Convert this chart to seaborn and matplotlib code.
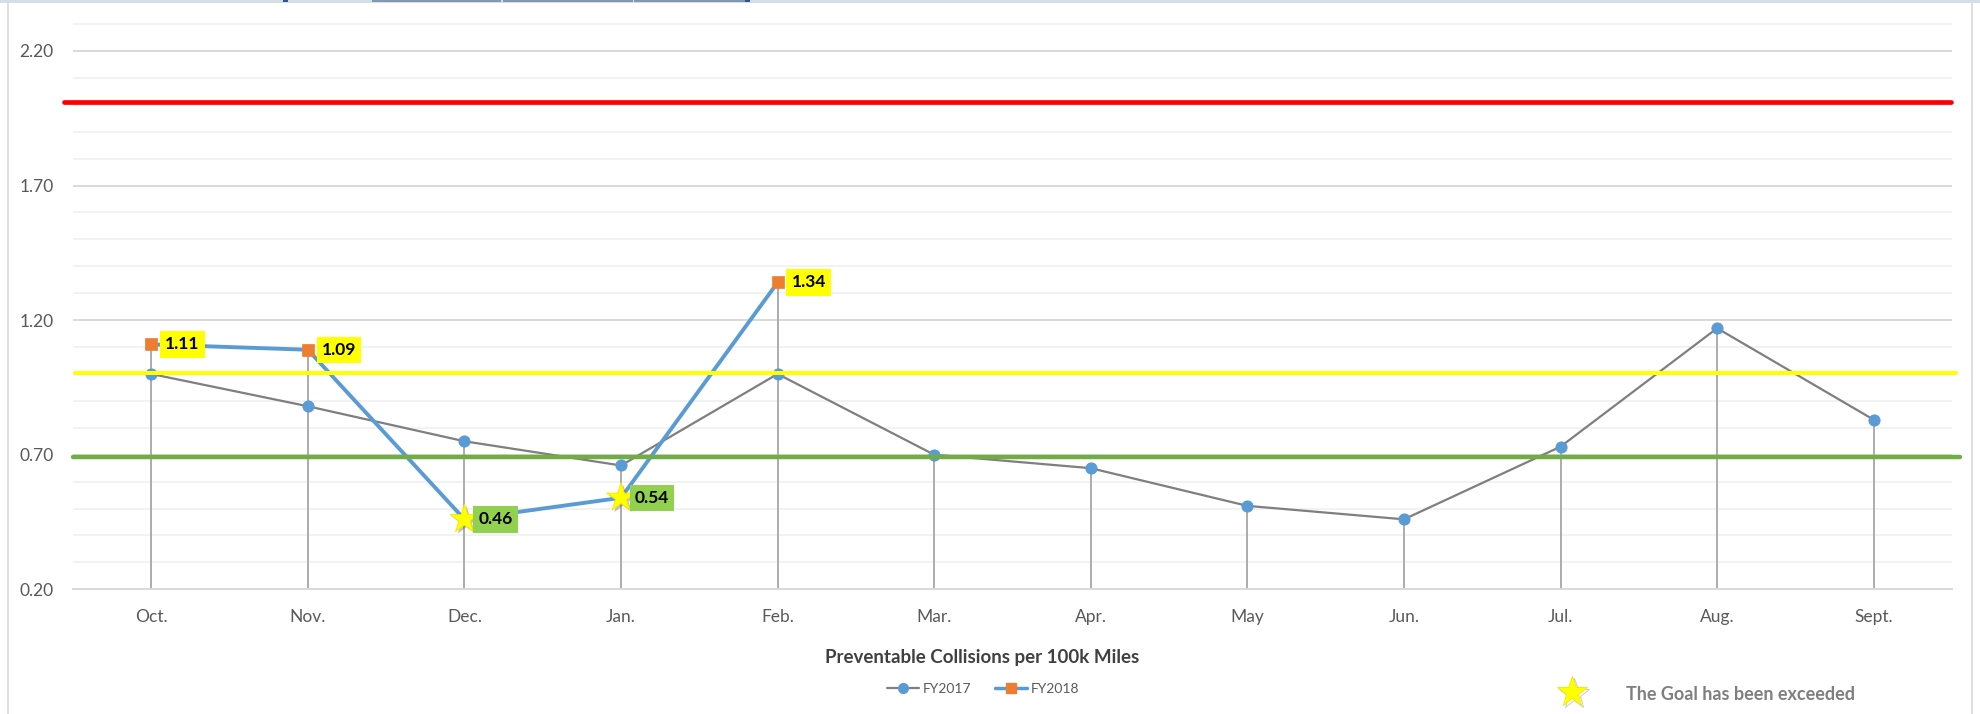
import numpy as np
import pandas as pd
import matplotlib
matplotlib.use("Agg")
import matplotlib.pyplot as plt
import matplotlib.patheffects as pe
from matplotlib.lines import Line2D
from matplotlib.patches import Rectangle
from matplotlib.ticker import FixedLocator, MultipleLocator, FuncFormatter
import seaborn as sns

# ---- data -------------------------------------------------------------
months = ["Oct.", "Nov.", "Dec.", "Jan.", "Feb.", "Mar.", "Apr.", "May",
          "Jun.", "Jul.", "Aug.", "Sept."]
fy2017 = [1.00, 0.88, 0.75, 0.66, 1.00, 0.70, 0.65, 0.51, 0.46, 0.73, 1.17, 0.83]
fy2018 = [1.11, 1.09, 0.46, 0.54, 1.34]
fy2018_goal_met = [False, False, True, True, False]

red_limit = 2.01
yellow_limit = 1.005
green_goal = 0.69
y_ticks = [0.20, 0.70, 1.20, 1.70, 2.20]
y_floor, y_top = 0.20, 2.30

title = "Preventable Collisions per 100k Miles"
goal_note = "The Goal has been exceeded"

# ---- style ------------------------------------------------------------
sns.set_style("white")
plt.rcParams["font.family"] = ["Lato", "DejaVu Sans"]

GRAY_TXT = "#595959"
BLUE = "#5B9BD5"
ORANGE = "#ED7D31"
LINE_GRAY = "#7F7F7F"

fig = plt.figure(figsize=(19.8, 7.14), dpi=100)
W, H = 1980, 714
ax = fig.add_axes([73 / W, (H - 589.3) / H, (1952 - 73) / W, (589.3 - 23) / H])

pos = np.arange(len(months))
df17 = pd.DataFrame({"pos": pos, "value": fy2017})
df18 = pd.DataFrame({"pos": pos[:len(fy2018)], "value": fy2018,
                     "goal": fy2018_goal_met})

# drop lines from the highest value of each month down to the axis
fy2018_full = np.full(len(months), np.nan)
fy2018_full[:len(fy2018)] = fy2018
drop_top = np.fmax(np.array(fy2017), fy2018_full)
ax.vlines(pos, y_floor, drop_top, color="#A6A6A6", lw=1.3, zorder=2)

# FY2017 series
sns.lineplot(data=df17, x="pos", y="value", ax=ax, color=LINE_GRAY, lw=1.6,
             marker="o", markersize=8, markerfacecolor=BLUE,
             markeredgecolor=BLUE, estimator=None, errorbar=None,
             sort=False, zorder=3)

# FY2018 series
sns.lineplot(data=df18, x="pos", y="value", ax=ax, color=BLUE, lw=2.8,
             estimator=None, errorbar=None, sort=False, zorder=3)
sns.scatterplot(data=df18[~df18["goal"]], x="pos", y="value", ax=ax,
                marker="s", color=ORANGE, s=75, edgecolor=ORANGE,
                linewidth=0.5, zorder=5)
stars = sns.scatterplot(data=df18[df18["goal"]], x="pos", y="value", ax=ax,
                        marker="*", color="#FFFF00", s=480,
                        edgecolor="#F2E600", linewidth=0.6, zorder=6)
shadow = [pe.SimplePatchShadow(offset=(1.5, -1.5), shadow_rgbFace="#555555",
                               alpha=0.35), pe.Normal()]
stars.collections[-1].set_path_effects(shadow)

# value labels for FY2018
for x, v, met in zip(df18["pos"], df18["value"], df18["goal"]):
    ax.annotate(f"{v:.2f}", xy=(x, v), xytext=(10, 0),
                textcoords="offset points", ha="left", va="center",
                fontsize=12.5, fontweight="bold", color="black", zorder=7,
                bbox=dict(boxstyle="square,pad=0.3",
                          fc="#92D050" if met else "#FFFF00", ec="none"))

# reference lines
ax.axhline(red_limit, xmin=-0.005, xmax=0.9995, color="#FF0000", lw=3.4,
           clip_on=False, zorder=4)
ax.axhline(yellow_limit, xmin=0.001, xmax=1.002, color="#FFFF00", lw=2.9,
           clip_on=False, zorder=4)
ax.axhline(green_goal, xmin=0.0, xmax=1.004, color="#70AD47", lw=3.2,
           clip_on=False, zorder=4)

# axes
ax.set_xlim(-0.5, len(months) - 0.5)
ax.set_ylim(y_floor, y_top + 0.004)
ax.set_xticks(pos, months)
ax.yaxis.set_major_locator(FixedLocator(y_ticks))
ax.yaxis.set_minor_locator(MultipleLocator(0.1))
ax.yaxis.set_major_formatter(FuncFormatter(lambda v, _: f"{v:.2f}"))
ax.grid(which="major", axis="y", color="#D9D9D9", lw=1.4)
ax.grid(which="minor", axis="y", color="#F2F2F2", lw=1.4)
ax.grid(False, axis="x")
ax.set_axisbelow(True)
ax.tick_params(axis="both", which="both", length=0, labelsize=12.5,
               labelcolor=GRAY_TXT)
ax.tick_params(axis="x", pad=14)
ax.tick_params(axis="y", pad=14)
ax.set_xlabel("")
ax.set_ylabel("")
for side in ["top", "left", "right"]:
    ax.spines[side].set_visible(False)
ax.spines["bottom"].set_color("#D9D9D9")
ax.spines["bottom"].set_linewidth(1.4)

# chart title (below the plot) and legend
fig.text(982 / W, 1 - 657 / H, title, ha="center", va="center",
         fontsize=13.5, fontweight="bold", color="#404040")
handles = [
    Line2D([], [], color=LINE_GRAY, lw=1.6, marker="o", markersize=7,
           markerfacecolor=BLUE, markeredgecolor=BLUE),
    Line2D([], [], color=BLUE, lw=2.5, marker="s", markersize=7,
           markerfacecolor=ORANGE, markeredgecolor=ORANGE),
]
leg = fig.legend(handles, ["FY2017", "FY2018"], loc="center",
                 bbox_to_anchor=(983 / W, 1 - 689 / H), ncol=2,
                 frameon=False, fontsize=10, handlelength=2.3,
                 handletextpad=0.3, columnspacing=1.7)
for t in leg.get_texts():
    t.set_color(GRAY_TXT)

# goal note with star symbol
note_star = Line2D([1572 / W], [1 - 692 / H], transform=fig.transFigure,
                   marker="*", markersize=23, markerfacecolor="#FFFF00",
                   markeredgecolor="#F2E600", markeredgewidth=0.6,
                   linestyle="none")
note_star.set_path_effects([pe.SimpleLineShadow(offset=(1.5, -1.5),
                                                shadow_color="#555555",
                                                alpha=0.35), pe.Normal()])
fig.add_artist(note_star)
fig.text(1626 / W, 1 - 694 / H, goal_note, ha="left", va="center",
         fontsize=13, fontweight="bold", color="#7F7F7F")

# chart frame and the strip along the top edge
fig.add_artist(Rectangle((0, 1 - 3 / H), 1, 3 / H, transform=fig.transFigure,
                         color="#D3DEE6", lw=0))
for x0, x1, c in [(372, 501, "#8497B0"), (503, 633, "#8497B0"),
                  (634, 745, "#8497B0"), (745, 750, "#2F5597"),
                  (283, 288, "#2F5597")]:
    fig.add_artist(Rectangle((x0 / W, 1 - 2 / H), (x1 - x0) / W, 2 / H,
                             transform=fig.transFigure, color=c, lw=0))
fig.add_artist(Line2D([8 / W, 8 / W], [0, 1 - 3 / H],
                      transform=fig.transFigure, color="#D9D9D9", lw=1.2))
fig.add_artist(Line2D([1972 / W, 1972 / W], [0, 1 - 3 / H],
                      transform=fig.transFigure, color="#D9D9D9", lw=1.2))

fig.savefig("out.png", dpi=100, facecolor="white")
